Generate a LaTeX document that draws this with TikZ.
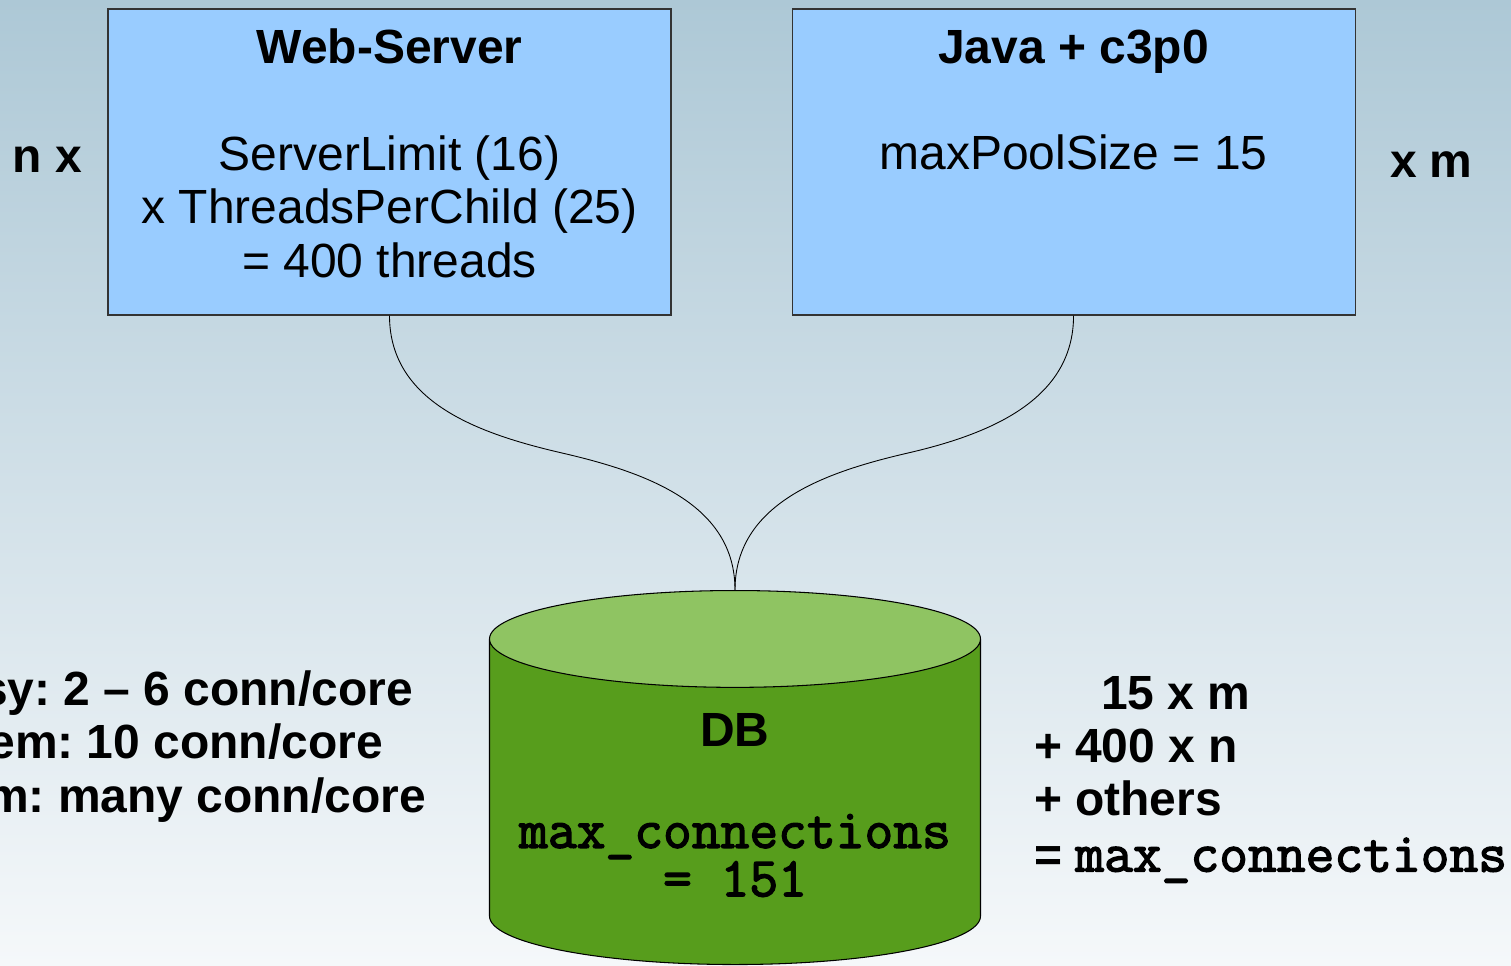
\documentclass[tikz,border=0pt]{standalone}
\usepackage{fontspec}
\setmainfont{Liberation Sans}
\newfontfamily\sqlmono{Latin Modern Mono}[FakeBold=2.5]
\usetikzlibrary{positioning}
\usetikzlibrary{shapes.geometric}
\definecolor{boxblue}{RGB}{153,204,255}
\definecolor{dbbody}{RGB}{87,157,28}
\definecolor{dbtop}{RGB}{143,196,98}
\definecolor{bgtop}{RGB}{173,200,214}
\definecolor{bgbottom}{RGB}{245,248,250}
\newcommand{\bodyfont}{\fontsize{27.3}{30.35}\selectfont\frenchspacing}
\newcommand{\sqlfont}{\fontsize{31.8}{27}\selectfont\sqlmono}

\begin{document}
\begin{tikzpicture}[serverbox/.style={draw=black!80,
      fill=boxblue,
      line width=0.6pt,
      minimum width=11.26cm,
      minimum height=6.12cm,
      text depth=0.35cm,
      align=center,
      font=\bodyfont},
    sidelabel/.style={font=\bodyfont\bfseries, inner sep=0pt, outer sep=0pt}]
\useasboundingbox (0,0) rectangle (30.22,19.3);
\shade[top color=bgtop, bottom color=bgbottom] (0,0) rectangle (30.22,19.3);

\node[serverbox]
	 (web) at (7.79,16.06) {\textbf{Web-Server}\\ \\ServerLimit (16)\\x ThreadsPerChild (25)\\= 400 threads};
\node[serverbox,
      right=2.40cm of web
     ]
	 (java) {\textbf{Java + c3p0}\\ \\maxPoolSize = 15\\ \\ };
\node[cylinder,
      shape border rotate=90,
      aspect=0.2243,
      draw=black,
      line width=0.6pt,
      cylinder uses custom fill,
      cylinder body fill=dbbody,
      cylinder end fill=dbtop,
      minimum width=9.82cm,
      minimum height=7.48cm,
      inner sep=0pt,
      text height=3.78cm,
      align=center,
      font=\bodyfont
     ]
	 (db) at (14.7,3.26) {\textbf{DB}\\ \\[-0.10cm]{\sqlfont max\_connections}\\[-0.1cm]{\sqlfont = 151}};

% Labels around the boxes
\node[sidelabel, anchor=base west] (nTimes) at (0.26,15.84) {n x};
\node[sidelabel, anchor=base west] (mTimes) at (27.8,15.74) {x m};
\node[sidelabel, anchor=base east] (busyRate) at (8.26,5.2) {sy: 2 – 6 conn/core};
\node[sidelabel, anchor=base east] (memRate) at (7.66,4.14) {em: 10 conn/core};
\node[sidelabel, anchor=base east] (manyRate) at (8.52,3.06) {m: many conn/core};
\node[sidelabel, anchor=base west, align=left] (sumLabel) at (20.68,1.87)
	{\hspace*{1.34cm}15 x m\\+ 400 x n\\+ others\\[0.05cm]= {\sqlfont max\_connections}};

% Connectors into the DB
\coordinate (webBend) at (11.24,10.24); \coordinate (javaBend) at (18.16,10.24);
	\draw[line width=0.5pt] (web.south) to[out=-90,in=167] (webBend) to[out=-13,in=90] (db.top);
	\draw[line width=0.5pt] (java.south) to[out=-90,in=13] (javaBend) to[out=193,in=90] (db.top);
\end{tikzpicture}
\end{document}
